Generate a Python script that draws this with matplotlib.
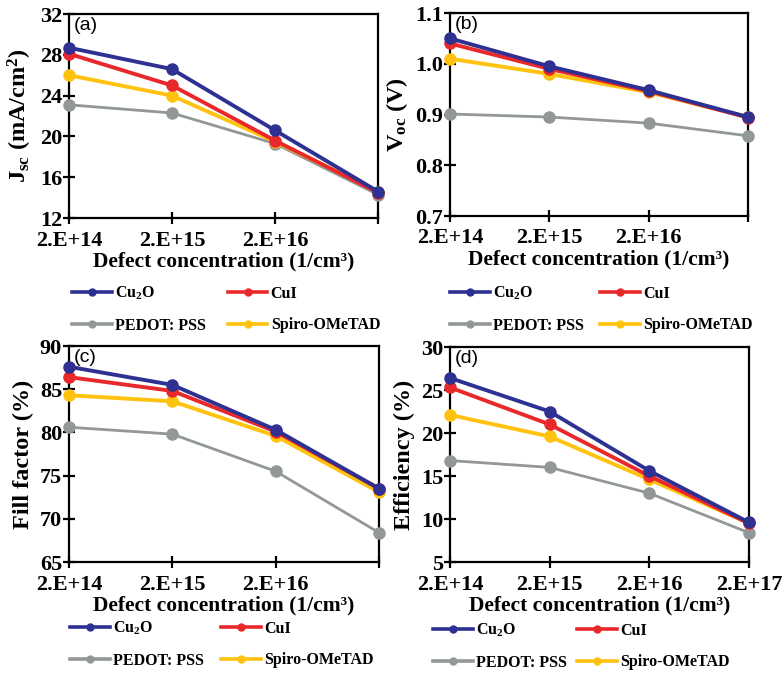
import matplotlib
matplotlib.use('Agg')
import matplotlib.pyplot as plt
from matplotlib.lines import Line2D

plt.rcParams['font.family'] = 'Liberation Serif'
plt.rcParams['font.weight'] = 'bold'
plt.rcParams['axes.labelweight'] = 'bold'
plt.rcParams['mathtext.fontset'] = 'custom'
plt.rcParams['mathtext.rm'] = 'Liberation Serif:bold'
plt.rcParams['mathtext.it'] = 'Liberation Serif:bold'
plt.rcParams['mathtext.bf'] = 'Liberation Serif:bold'

x_labels = ['2.E+14', '2.E+15', '2.E+16', '2.E+17']
names = [r'Cu$_{\rm 2}$O', 'CuI', 'PEDOT: PSS', 'Spiro-OMeTAD']
colors = ['#2E3192', '#E8282A', '#929797', '#FFC20E']

jsc_cu2o = [28.7, 26.6, 20.6, 14.6]
jsc_cui = [28.1, 25.0, 19.6, 14.5]
jsc_pedot = [23.1, 22.3, 19.3, 14.3]
jsc_spiro = [26.0, 24.0, 19.5, 14.6]

voc_cu2o = [1.050, 0.995, 0.948, 0.895]
voc_cui = [1.040, 0.990, 0.946, 0.894]
voc_pedot = [0.901, 0.895, 0.883, 0.858]
voc_spiro = [1.010, 0.980, 0.944, 0.895]

ff_cu2o = [87.6, 85.5, 80.3, 73.5]
ff_cui = [86.4, 84.8, 80.1, 73.5]
ff_pedot = [80.6, 79.8, 75.5, 68.4]
ff_spiro = [84.3, 83.6, 79.6, 73.1]

eff_cu2o = [26.4, 22.5, 15.6, 9.6]
eff_cui = [25.3, 21.0, 15.0, 9.5]
eff_pedot = [16.8, 16.0, 13.0, 8.4]
eff_spiro = [22.1, 19.6, 14.6, 9.5]

fig = plt.figure(figsize=(7.82, 6.75), dpi=100)

panels = [
    # axes rect, data, ylim, yticks, ylabel, tag, show 17, legend anchor (px), colspacing
    ([0.0882, 0.677, 0.3951, 0.3022], [jsc_cu2o, jsc_cui, jsc_pedot, jsc_spiro],
     (12, 32), [12, 16, 20, 24, 28, 32], r'J$_{\rm sc}$ (mA/cm$^{\rm 2}$)', '(a)', False,
     (72, 285), 1.35),
    ([0.5754, 0.68, 0.3811, 0.3007], [voc_cu2o, voc_cui, voc_pedot, voc_spiro],
     (0.7, 1.1), [0.7, 0.8, 0.9, 1.0, 1.1], r'V$_{\rm oc}$ (V)', '(b)', False,
     (450, 285), 1.0),
    ([0.0882, 0.1674, 0.3964, 0.3200], [ff_cu2o, ff_cui, ff_pedot, ff_spiro],
     (65, 90), [65, 70, 75, 80, 85, 90], 'Fill factor (%)', '(c)', False,
     (70, 620), 1.05),
    ([0.5754, 0.1674, 0.3824, 0.3185], [eff_cu2o, eff_cui, eff_pedot, eff_spiro],
     (5, 30), [5, 10, 15, 20, 25, 30], 'Efficiency (%)', '(d)', True,
     (433, 622), 0.65),
]

xs = list(range(len(x_labels)))

for rect, series, ylim, yticks, ylabel, tag, show17, anchor, colsp in panels:
    ax = fig.add_axes(rect)
    # gray first so colored lines sit on top
    for i in [2, 3, 1, 0]:
        lw = 2.0 if i == 2 else 2.8
        ax.plot(xs, series[i], color=colors[i], lw=lw, marker='o', ms=8,
                clip_on=False, zorder=3)
    ax.set_xlim(0, 3)
    ax.set_ylim(*ylim)
    ax.set_yticks(yticks)
    if ylim[1] < 2:
        ax.set_yticklabels(['%.1f' % v for v in yticks])
    ax.set_xticks(xs)
    if show17:
        ax.set_xticklabels(x_labels)
    else:
        ax.set_xticklabels(x_labels[:3] + [''])
    for lab in ax.get_xticklabels() + ax.get_yticklabels():
        lab.set_fontweight('bold')
    for s in ax.spines.values():
        s.set_linewidth(1.6)
    ax.tick_params(direction='inout', length=8, width=1.6, labelsize=16)
    ax.tick_params(axis='x', pad=5)
    ax.tick_params(axis='y', pad=1)
    ax.set_xlabel('Defect concentration (1/cm³)', fontsize=15.5, fontweight='bold', labelpad=1)
    ax.set_ylabel(ylabel, fontsize=17.5, fontweight='bold', labelpad=4)
    ax.text(0.015, 0.985, tag, transform=ax.transAxes, ha='left', va='top',
            fontsize=14, family='Liberation Sans', fontweight='normal')

    # legend fills column-wise, so order gives rows: Cu2O CuI / PEDOT Spiro
    handles = [Line2D([], [], color=colors[i], lw=2.6, marker='o', ms=5) for i in [0, 2, 1, 3]]
    labels = [names[i] for i in [0, 2, 1, 3]]
    fig.legend(handles, labels, loc='upper left',
               bbox_to_anchor=(anchor[0] / 782, 1 - anchor[1] / 675),
               ncol=2, frameon=False, fontsize=11.5, handlelength=2.5,
               handletextpad=0.2, columnspacing=colsp, labelspacing=0.95,
               borderpad=0, borderaxespad=0)

fig.savefig('out.png', dpi=100)
